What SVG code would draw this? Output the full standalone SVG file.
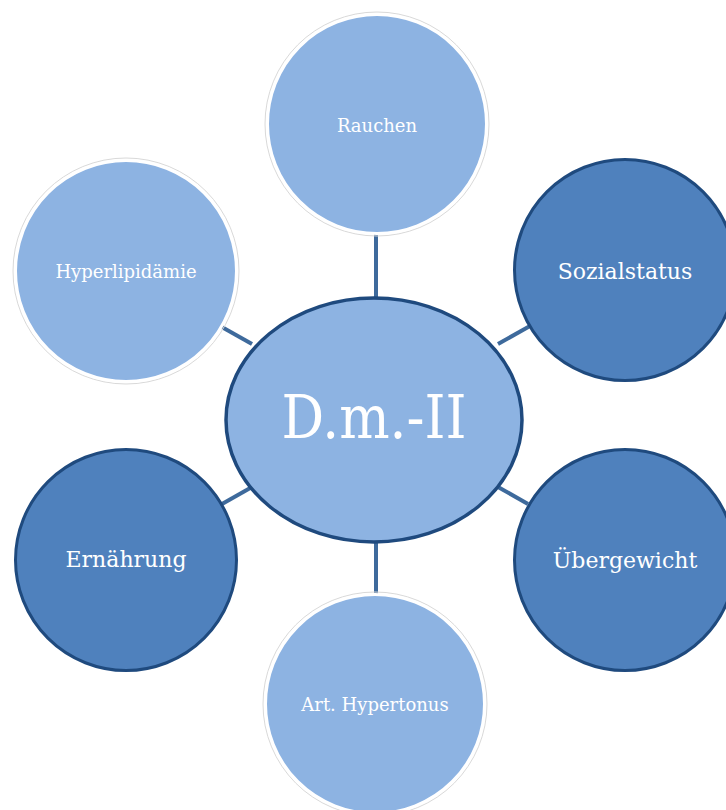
<svg xmlns="http://www.w3.org/2000/svg" width="726" height="810" viewBox="0 0 726 810">
<style>
.conn{stroke:#3e6a9c;stroke-width:4;fill:none}
.light-halo{fill:none;stroke:#d9d9d9;stroke-width:1}
.light{fill:#8db3e2;stroke:#ffffff;stroke-width:3}
.dark{fill:#4f81bd;stroke:#1f4a7e;stroke-width:3}
.center{fill:#8db3e2;stroke:#1f4a7e;stroke-width:3.5}
.t{font-family:"DejaVu Serif","Liberation Serif",serif;fill:#ffffff;text-anchor:middle}
.s{font-size:18px}
.m{font-size:22px}
</style>
<rect width="726" height="810" fill="#ffffff"/>
<g id="connectors">
<line class="conn" x1="376" y1="232" x2="376" y2="300"/>
<line class="conn" x1="376" y1="540" x2="376" y2="595"/>
<line class="conn" x1="220" y1="326" x2="252" y2="344"/>
<line class="conn" x1="498" y1="344" x2="530" y2="326"/>
<line class="conn" x1="222" y1="504" x2="252" y2="487"/>
<line class="conn" x1="498" y1="487" x2="528" y2="504"/>
</g>
<g id="rauchen">
<circle class="light-halo" cx="377" cy="124" r="112"/>
<circle class="light" cx="377" cy="124" r="109.5"/>
<text class="t s" x="377" y="132">Rauchen</text>
</g>
<g id="hyperlipidaemie">
<circle class="light-halo" cx="126" cy="271" r="113"/>
<circle class="light" cx="126" cy="271" r="110.5"/>
<text class="t s" x="126" y="278">Hyperlipidämie</text>
</g>
<g id="sozialstatus">
<circle class="dark" cx="625" cy="270" r="110.5"/>
<text class="t m" x="625" y="279">Sozialstatus</text>
</g>
<g id="ernaehrung">
<circle class="dark" cx="126" cy="560" r="110.5"/>
<text class="t m" x="126" y="567">Ernährung</text>
</g>
<g id="uebergewicht">
<circle class="dark" cx="625" cy="560" r="110.5"/>
<text class="t m" x="625" y="568">Übergewicht</text>
</g>
<g id="hypertonus">
<circle class="light-halo" cx="375" cy="704" r="112"/>
<circle class="light" cx="375" cy="704" r="109.5"/>
<text class="t s" x="375" y="711">Art. Hypertonus</text>
</g>
<g id="dm2">
<ellipse class="center" cx="374" cy="420" rx="148" ry="122"/>
<text class="t" x="374" y="438" font-size="60" textLength="185" lengthAdjust="spacingAndGlyphs">D.m.-II</text>
</g>
</svg>
